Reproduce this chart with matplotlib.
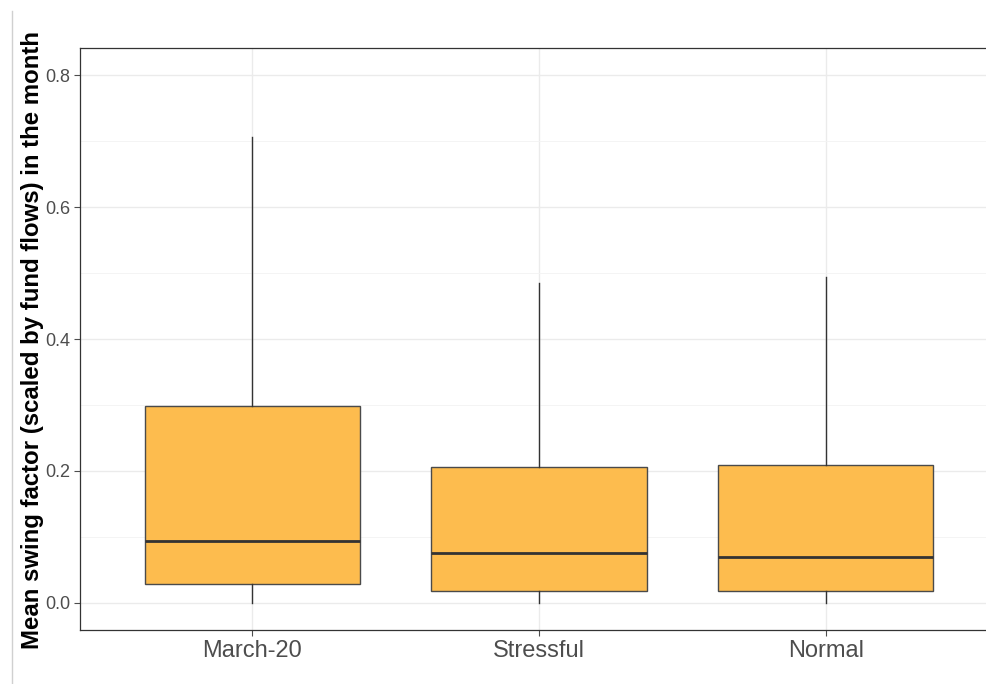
import matplotlib
matplotlib.use('Agg')
import matplotlib.pyplot as plt
from matplotlib.lines import Line2D

# Box summary statistics
categories = ['March-20', 'Stressful', 'Normal']
whisker_low = [0.0, 0.0, 0.0]
q1 = [0.029, 0.018, 0.018]
median = [0.094, 0.076, 0.070]
q3 = [0.298, 0.206, 0.209]
whisker_high = [0.706, 0.485, 0.494]

y_ticks = [0.0, 0.2, 0.4, 0.6, 0.8]
y_label = 'Mean swing factor (scaled by fund flows) in the month'

plt.rcParams['font.family'] = ['Liberation Sans', 'DejaVu Sans']

W, H = 987, 684
fig = plt.figure(figsize=(W / 100, H / 100), dpi=100)
# panel spans x 80..998 px (cropped on the right), y 48..630 px
ax = fig.add_axes([80 / W, 1 - 630 / H, (998 - 80) / W, (630 - 48) / H])

stats = []
for i, c in enumerate(categories):
    stats.append({
        'label': c,
        'whislo': whisker_low[i],
        'q1': q1[i],
        'med': median[i],
        'q3': q3[i],
        'whishi': whisker_high[i],
        'fliers': [],
    })

ax.bxp(
    stats,
    positions=range(1, len(categories) + 1),
    widths=0.75,
    patch_artist=True,
    showcaps=False,
    boxprops=dict(facecolor='#FDBC4E', edgecolor='#4a4a4a', linewidth=1.0),
    medianprops=dict(color='#333333', linewidth=2.0),
    whiskerprops=dict(color='#333333', linewidth=1.0),
    zorder=3,
)

ax.set_xlim(0.4, 3.6)
ax.set_ylim(-0.041, 0.841)
ax.set_yticks(y_ticks)
ax.set_yticklabels([f'{v:.1f}' for v in y_ticks])
ax.set_yticks([0.1, 0.3, 0.5, 0.7], minor=True)
ax.set_xticks(range(1, len(categories) + 1))
ax.set_xticklabels(categories)

ax.grid(True, which='major', color='#EBEBEB', linewidth=1.0, zorder=0)
ax.grid(True, which='minor', axis='y', color='#F3F3F3', linewidth=0.6, zorder=0)
ax.set_axisbelow(True)

ax.tick_params(axis='y', which='major', labelsize=13, colors='#4D4D4D',
               length=4, width=0.8, pad=3)
ax.tick_params(axis='y', which='minor', length=0)
ax.tick_params(axis='x', labelsize=17, colors='#4D4D4D', length=4,
               width=0.8, pad=3)
for lbl in ax.get_xticklabels() + ax.get_yticklabels():
    lbl.set_color('#4D4D4D')

for s in ax.spines.values():
    s.set_color('#333333')
    s.set_linewidth(0.9)

fig.text(33 / W, 1 - 340 / H, y_label, rotation=90, ha='center',
         va='center', fontsize=17.3, fontweight='bold', color='black')

# light frame line at the left edge of the picture
fig.add_artist(Line2D([12 / W, 12 / W], [0, 1 - 11 / H],
                      transform=fig.transFigure, color='#D0D0D0',
                      linewidth=1.0))

fig.savefig('out.png', dpi=100)
